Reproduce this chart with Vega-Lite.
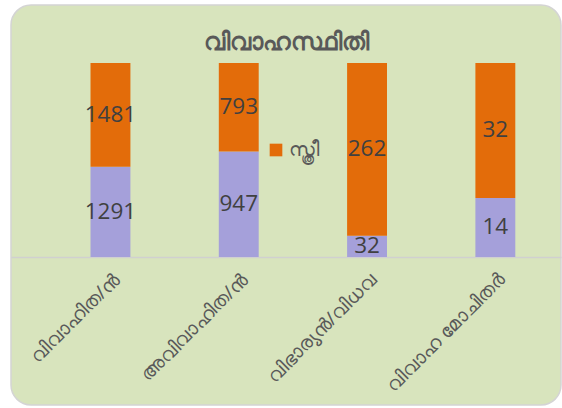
{
  "$schema": "https://vega.github.io/schema/vega-lite/v6.json",
  "autosize": {"type": "none"},
  "width": 550,
  "height": 400,
  "padding": {"left": 11, "top": 5, "right": 1, "bottom": 3},
  "background": "white",
  "title": {
    "text": "വിവാഹസ്ഥിതി",
    "anchor": "middle",
    "frame": "group",
    "offset": -50,
    "baseline": "top",
    "fontSize": 24,
    "fontWeight": "bold",
    "color": "#595959",
    "font": "Noto Sans"
  },
  "config": {
    "view": {"fill": "#d8e4bd", "stroke": "#d4d4d4", "strokeWidth": 1.5, "cornerRadius": 20},
    "font": "Noto Sans"
  },
  "data": {
    "values": [
      {"status": "വിവാഹിത/ൻ", "sex": "പുരുഷൻ", "count": 1291},
      {"status": "വിവാഹിത/ൻ", "sex": "സ്ത്രീ", "count": 1481},
      {"status": "അവിവാഹിത/ൻ", "sex": "പുരുഷൻ", "count": 947},
      {"status": "അവിവാഹിത/ൻ", "sex": "സ്ത്രീ", "count": 793},
      {"status": "വിഭാര്യൻ/വിധവ", "sex": "പുരുഷൻ", "count": 32},
      {"status": "വിഭാര്യൻ/വിധവ", "sex": "സ്ത്രീ", "count": 262},
      {"status": "വിവാഹ മോചിതർ", "sex": "പുരുഷൻ", "count": 14},
      {"status": "വിവാഹ മോചിതർ", "sex": "സ്ത്രീ", "count": 32}
    ]
  },
  "encoding": {
    "x": {
      "field": "status",
      "type": "nominal",
      "sort": null,
      "scale": {"paddingInner": 0.689, "paddingOuter": 0.488, "align": 0.635},
      "axis": {
        "title": null,
        "labelAngle": -45,
        "labelFontSize": 19,
        "labelColor": "#595959",
        "labelPadding": 13,
        "ticks": false,
        "domainColor": "#d0d0d0",
        "domainWidth": 1.5,
        "offset": -148
      }
    },
    "y": {
      "field": "count",
      "type": "quantitative",
      "stack": "normalize",
      "scale": {"domain": [-0.763, 1.299], "nice": false, "zero": false},
      "axis": null
    },
    "order": {"field": "sex", "sort": "ascending"}
  },
  "layer": [
    {
      "mark": {"type": "bar"},
      "encoding": {
        "color": {
          "field": "sex",
          "type": "nominal",
          "scale": {"domain": ["പുരുഷൻ", "സ്ത്രീ"], "range": ["#a5a0da", "#e36c0a"]},
          "legend": {
            "values": ["സ്ത്രീ"],
            "title": null,
            "orient": "none",
            "legendX": 255,
            "legendY": 135,
            "symbolType": "square",
            "symbolSize": 160,
            "symbolStrokeWidth": 0,
            "labelOffset": 3,
            "labelFontSize": 20,
            "labelColor": "#595959"
          }
        }
      }
    },
    {
      "mark": {"type": "text", "fontSize": 22.5, "color": "#404040", "font": "Open Sans"},
      "encoding": {
        "y": {
          "field": "count",
          "type": "quantitative",
          "stack": "normalize",
          "bandPosition": 0.5
        },
        "detail": {"field": "sex"},
        "text": {"field": "count", "type": "quantitative"}
      }
    }
  ]
}
